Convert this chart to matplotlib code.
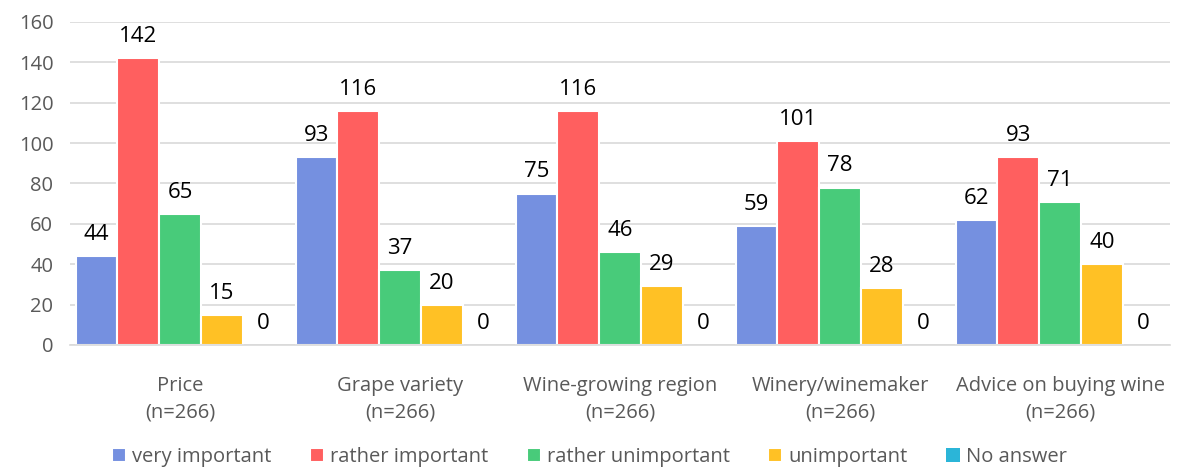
import matplotlib
matplotlib.use("Agg")
import matplotlib.pyplot as plt
import numpy as np

categories = ["Price\n(n=266)", "Grape variety\n(n=266)", "Wine-growing region\n(n=266)",
              "Winery/winemaker\n(n=266)", "Advice on buying wine\n(n=266)"]
series_names = ["very important", "rather important", "rather unimportant", "unimportant", "No answer"]
very_important = [44, 93, 75, 59, 62]
rather_important = [142, 116, 116, 101, 93]
rather_unimportant = [65, 37, 46, 78, 71]
unimportant = [15, 20, 29, 28, 40]
no_answer = [0, 0, 0, 0, 0]
colors = ["#7590E0", "#FF5F5F", "#48CB7A", "#FFC125", "#2BB5D8"]
yticks = [0, 20, 40, 60, 80, 100, 120, 140, 160]

series = [very_important, rather_important, rather_unimportant, unimportant, no_answer]

plt.rcParams['font.family'] = ['Open Sans', 'DejaVu Sans']
fig = plt.figure(figsize=(11.79, 4.70), dpi=100)
ax = fig.add_axes([70/1179, 1-345/470, 1100/1179, 323/470])

x = np.arange(len(categories))
slot = 0.19
for i, (vals, c, name) in enumerate(zip(series, colors, series_names)):
    pos = x + (i - 2) * slot
    lws = [1.5 if v > 0 else 0 for v in vals]
    ax.bar(pos, vals, width=slot, color=c, edgecolor="white", linewidth=lws, label=name, zorder=3)
    for p, v in zip(pos, vals):
        ax.text(p, v + 5.5, str(v), ha="center", va="bottom", fontsize=16, color="black", zorder=4)

ax.set_ylim(0, 160)
ax.set_xlim(-0.5, 4.5)
ax.set_yticks(yticks)
ax.set_xticks(x)
ax.set_xticklabels(categories, fontsize=14.5, color="#595959", linespacing=1.45)
ax.tick_params(axis="y", labelsize=14.5, labelcolor="#595959", length=0, pad=12)
ax.tick_params(axis="x", length=0, pad=22)
ax.grid(axis="y", color="#D9D9D9", linewidth=1.2, zorder=0)
for s in ["top", "right", "left"]:
    ax.spines[s].set_visible(False)
ax.spines["bottom"].set_color("#D9D9D9")
ax.spines["bottom"].set_linewidth(1.2)
ax.spines["bottom"].set_zorder(5)

handles, labels = ax.get_legend_handles_labels()
fig.legend(handles, labels, loc="center", bbox_to_anchor=(0.5, 1-457/470), ncol=5, frameon=False,
           fontsize=14.5, labelcolor="#595959", handlelength=0.7, handleheight=0.7, handletextpad=0.3,
           columnspacing=1.9)

fig.savefig("out.png", dpi=100)
